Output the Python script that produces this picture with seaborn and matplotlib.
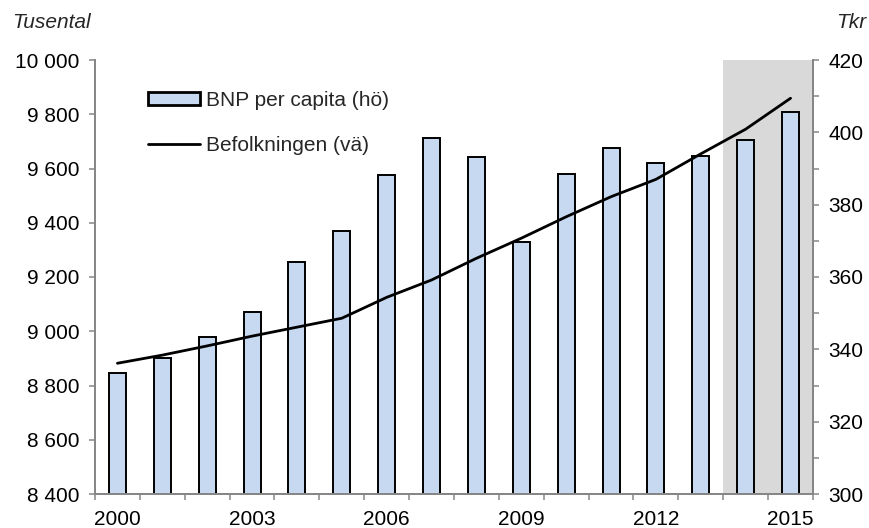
import numpy as np
import matplotlib
matplotlib.use("Agg")
import matplotlib.pyplot as plt
from matplotlib.ticker import FuncFormatter, MultipleLocator
from matplotlib.patches import Patch
from matplotlib.lines import Line2D
import seaborn as sns

# data
years = [str(y) for y in range(2000, 2016)]
bnp_per_capita = [333.4, 337.7, 343.5, 350.4, 364.2, 372.8, 388.2, 398.3,
                  393.1, 369.6, 388.5, 395.7, 391.6, 393.4, 397.9, 405.7]  # Tkr, right axis
befolkning = [8882, 8912, 8946, 8982, 9015, 9048, 9125, 9189,
              9269, 9343, 9422, 9496, 9560, 9654, 9745, 9859]  # tusental, left axis
shown_years = ["2000", "2003", "2006", "2009", "2012", "2015"]
forecast_years = ["2014", "2015"]

sns.set_theme(style="white")
plt.rcParams["font.family"] = ["Liberation Sans", "DejaVu Sans"]
fs = 15
grey = "#868686"
bar_col = "#c6d9f1"

fig = plt.figure(figsize=(8.7, 5.28), dpi=100)
ax = fig.add_axes([95 / 870, 1 - 494 / 528, (813 - 95) / 870, (494 - 60) / 528])
ax2 = ax.twinx()

# prognosis shading behind the bars
i0 = years.index(forecast_years[0])
i1 = years.index(forecast_years[-1])
ax2.axvspan(i0 - 0.5, i1 + 0.5, color="#d9d9d9", lw=0, zorder=0)

sns.barplot(x=years, y=bnp_per_capita, ax=ax2, color=bar_col, width=0.38,
            edgecolor="black", linewidth=1.4, saturation=1, zorder=2)
sns.pointplot(x=years, y=befolkning, ax=ax, color="black", markers="",
              linewidth=2.0, errorbar=None)

ax.set_zorder(ax2.get_zorder() + 1)
ax.patch.set_visible(False)

ax.set_xlim(-0.5, len(years) - 0.5)
ax2.set_xlim(-0.5, len(years) - 0.5)
ax.set_ylim(8400, 10000)
ax2.set_ylim(300, 420)

ax.yaxis.set_major_locator(MultipleLocator(200))
ax.yaxis.set_major_formatter(FuncFormatter(lambda v, p: f"{int(v):,}".replace(",", " ")))
ax2.yaxis.set_major_locator(MultipleLocator(20))
ax2.yaxis.set_minor_locator(MultipleLocator(10))

pos = [years.index(y) for y in shown_years]
ax.set_xticks(pos)
ax.set_xticklabels(shown_years)
ax.set_xticks(np.arange(-0.5, len(years), 1), minor=True)

for a in (ax, ax2):
    a.set_xlabel("")
    a.set_ylabel("")
    a.spines["top"].set_visible(False)
    for s in ("left", "right", "bottom"):
        a.spines[s].set_color(grey)
        a.spines[s].set_linewidth(1.3)

ax.tick_params(axis="y", which="major", left=True, right=False, length=4,
               width=1.1, color=grey, labelsize=fs, pad=7, labelcolor="black")
ax.tick_params(axis="x", which="major", bottom=True, length=0, labelsize=fs, pad=11.5,
               labelcolor="black")
ax.tick_params(axis="x", which="minor", bottom=True, length=4, width=1.1, color=grey)
ax2.tick_params(axis="y", which="both", right=True, left=False, width=1.1, color=grey,
                labelsize=fs, pad=7, labelcolor="black")
ax2.tick_params(axis="y", which="major", length=4)
ax2.tick_params(axis="y", which="minor", length=4)
ax2.tick_params(axis="x", which="both", bottom=False, labelbottom=False)

fig.text(12 / 870, 1 - 22 / 528, "Tusental", fontsize=fs, style="italic", va="center", ha="left")
fig.text(866 / 870, 1 - 22 / 528, "Tkr", fontsize=fs, style="italic", va="center", ha="right")

handles = [Patch(facecolor=bar_col, edgecolor="black", linewidth=2),
           Line2D([], [], color="black", lw=2.0)]
labels = ["BNP per capita (hö)", "Befolkningen (vä)"]
ax.legend(handles, labels, loc="upper left", bbox_to_anchor=(148 / 870, 1 - 91 / 528),
          bbox_transform=fig.transFigure, frameon=False, fontsize=fs, borderpad=0,
          borderaxespad=0, handlelength=2.5, handletextpad=0.3, handleheight=0.55,
          labelspacing=1.25)

fig.savefig("out.png", dpi=100)
